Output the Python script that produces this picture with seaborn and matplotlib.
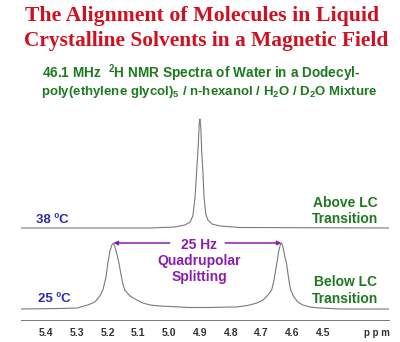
import numpy as np
import pandas as pd
import seaborn as sns
import matplotlib
matplotlib.use('Agg')
import matplotlib.pyplot as plt
from matplotlib.ticker import MultipleLocator, FormatStrFormatter

# spectra: chemical shift (ppm) and intensity (arbitrary)
ppm_38 = [5.481, 5.062, 4.981, 4.949, 4.932, 4.923, 4.916, 4.911, 4.906, 4.902, 4.900,
          4.897, 4.894, 4.890, 4.887, 4.881, 4.874, 4.861, 4.835, 4.770, 4.286]
int_38 = [0, 0, 1, 3, 6, 12, 30, 55, 80, 105, 109,
          100, 75, 55, 32, 14, 8, 4, 2, 0.5, 0]

ppm_25 = [5.481, 5.355, 5.299, 5.264, 5.241, 5.225, 5.215, 5.205, 5.199, 5.192, 5.186,
          5.181, 5.176, 5.169, 5.163, 5.156, 5.150, 5.144, 5.127, 5.105, 5.085, 5.062,
          5.030, 4.997, 4.932, 4.868, 4.803, 4.780, 4.757, 4.738, 4.715, 4.695, 4.679,
          4.667, 4.660, 4.650, 4.644, 4.639, 4.635, 4.631, 4.624, 4.619, 4.614, 4.608,
          4.605, 4.595, 4.582, 4.566, 4.543, 4.510, 4.445, 4.286]
int_25 = [0, 0.5, 1, 4, 7, 13, 19, 32, 46, 58, 64,
          66, 62, 54, 46, 34, 25, 19, 13, 9, 6, 4,
          3, 2.5, 1.5, 1.5, 2, 2, 3, 4, 6, 9, 14,
          19, 28, 46, 58, 64, 66, 63, 52, 46, 35, 23,
          19, 12, 7, 4, 2, 1, 0, 0]

tick_vals = [5.4, 5.3, 5.2, 5.1, 5.0, 4.9, 4.8, 4.7, 4.6, 4.5]

title = ['The Alignment of Molecules in Liquid', 'Crystalline Solvents in a Magnetic Field']
subtitle = ['46.1 MHz  $^2$H NMR Spectra of Water in a Dodecyl-',
            'poly(ethylene glycol)$_5$ / n-hexanol / H$_2$O / D$_2$O Mixture']

# layout (pixels)
W, H = 400, 342
off_38 = 92
off_25 = 11

sns.set_style('white')
plt.rcParams['font.family'] = ['Liberation Sans', 'DejaVu Sans']
plt.rcParams['mathtext.fontset'] = 'custom'
plt.rcParams['mathtext.rm'] = 'Liberation Sans:bold'
plt.rcParams['mathtext.it'] = 'Liberation Sans:bold'
plt.rcParams['mathtext.bf'] = 'Liberation Sans:bold'

fig = plt.figure(figsize=(W / 100, H / 100), dpi=100)
fig.patch.set_facecolor('white')
ax = fig.add_axes([21 / W, (H - 320) / H, 368 / W, 320 / H])

df38 = pd.DataFrame({'ppm': ppm_38, 'y': np.array(int_38) + off_38})
df25 = pd.DataFrame({'ppm': ppm_25, 'y': np.array(int_25) + off_25})
sns.lineplot(x='ppm', y='y', data=df38, ax=ax, color='#7a7a7a', lw=0.8, sort=False)
sns.lineplot(x='ppm', y='y', data=df25, ax=ax, color='#7a7a7a', lw=0.8, sort=False)

ax.set_xlim(5.481, 4.286)
ax.set_ylim(0, 320)
ax.set_xlabel('')
ax.set_ylabel('')
ax.set_yticks([])
ax.set_xticks(tick_vals)
ax.xaxis.set_major_formatter(FormatStrFormatter('%.1f'))
ax.xaxis.set_minor_locator(MultipleLocator(0.01))
ax.tick_params(axis='x', which='major', direction='out', length=3.5, width=0.6,
               color='#777777', labelsize=7.5, labelcolor='#333333', pad=2.5)
ax.tick_params(axis='x', which='minor', direction='out', length=1.6, width=0.5, color='#888888')
for lbl in ax.get_xticklabels():
    lbl.set_fontweight('bold')
for s in ['left', 'top', 'right']:
    ax.spines[s].set_visible(False)
ax.spines['bottom'].set_color('#777777')
ax.spines['bottom'].set_linewidth(0.7)
ax.patch.set_alpha(0)

def ft(x, y, s, va='center', **kw):
    fig.text(x / W, 1 - y / H, s, ha='center', va=va, **kw)

red = '#d01020'
green = '#1e7a1e'
blue = '#2b2bb0'
purple = '#8a1fae'

ft(202, 16, title[0], color=red, fontsize=15.7, fontweight='bold', family='Liberation Serif')
ft(206, 41, title[1], color=red, fontsize=15.4, fontweight='bold', family='Liberation Serif')
ft(201, 77.5, subtitle[0], va='baseline', color=green, fontsize=9.8, fontweight='bold')
ft(209, 94.5, subtitle[1], va='baseline', color=green, fontsize=9.5, fontweight='bold')

ft(52, 220, '38 ºC', color=blue, fontsize=9.5, fontweight='bold')
ft(54, 299, '25 ºC', color=blue, fontsize=9.5, fontweight='bold')
ft(345, 203, 'Above LC', color=green, fontsize=10, fontweight='bold')
ft(345, 219, 'Transition', color=green, fontsize=10, fontweight='bold')
ft(345, 282, 'Below LC', color=green, fontsize=10, fontweight='bold')
ft(345, 299, 'Transition', color=green, fontsize=10, fontweight='bold')

ft(199, 245, '25 Hz', color=purple, fontsize=10, fontweight='bold')
ft(199, 261, 'Quadrupolar', color=purple, fontsize=10, fontweight='bold')
ft(199, 277, 'Splitting', color=purple, fontsize=10, fontweight='bold')
ft(377, 333, 'p p m', color='#333333', fontsize=7, fontweight='bold')

# splitting arrows between the two peak maxima
i_left = int(np.argmax(int_25[:25]))
i_right = 25 + int(np.argmax(int_25[25:]))
y_arr = max(int_25) + off_25
x_mid = (ppm_25[i_left] + ppm_25[i_right]) / 2
for xe, xs in [(ppm_25[i_left], x_mid + 0.09), (ppm_25[i_right], x_mid - 0.09)]:
    ax.annotate('', xy=(xe, y_arr), xytext=(xs, y_arr),
                arrowprops=dict(arrowstyle='-|>', color=purple, lw=1.1,
                                mutation_scale=6, shrinkA=0, shrinkB=0))

fig.savefig('out.png', dpi=100, facecolor='white')
